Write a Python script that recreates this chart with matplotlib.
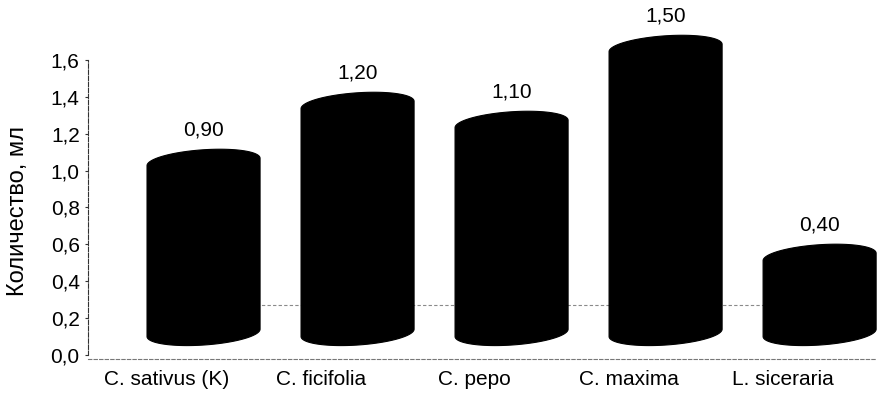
import numpy as np
import matplotlib.pyplot as plt
from matplotlib.patches import Polygon

species = ["C. sativus (K)", "C. ficifolia", "C. pepo", "C. maxima", "L. siceraria"]
volume_ml = [0.90, 1.20, 1.10, 1.50, 0.40]
y_ticks = [0.0, 0.2, 0.4, 0.6, 0.8, 1.0, 1.2, 1.4, 1.6]

plt.rcParams["font.family"] = ["Liberation Sans", "DejaVu Sans"]


def comma(v, digits):
    return f"{v:.{digits}f}".replace(".", ",")


fig = plt.figure(figsize=(8.83, 3.94), dpi=100)
ax = fig.add_axes([0.0997, 0.099, 0.8913, 0.819])
ax.set_xlim(-0.51, 4.6)
ax.set_ylim(0, 1.75)

# fake 3D: cylinders are pushed back/up by the depth offset and slightly
# stretched by perspective
depth_dx = 0.24
depth_dy = 0.12
persp = 1.03
half_w = 0.367
ell_h = 0.066
shear = 0.02

t_top = np.linspace(0, np.pi, 80)
t_bot = np.linspace(np.pi, 2 * np.pi, 80)

# back floor edge
ax.axhline(0.27, xmin=0.1, xmax=1.0, color="#8a8a8a", lw=0.8,
           ls=(0, (3, 2)), zorder=1)

for i, v in enumerate(volume_ml):
    cx = i + depth_dx
    y0 = depth_dy
    y1 = depth_dy + v * persp
    top = np.column_stack([cx + half_w * np.cos(t_top),
                           y1 + ell_h * np.sin(t_top) + shear * np.cos(t_top)])
    bot = np.column_stack([cx + half_w * np.cos(t_bot),
                           y0 + ell_h * np.sin(t_bot) + shear * np.cos(t_bot)])
    ax.add_patch(Polygon(np.vstack([top, bot]), closed=True, fc="black",
                         ec="black", lw=0.8, clip_on=False, zorder=3))
    ax.text(cx, y1 + ell_h + 0.055, comma(v, 2), ha="center", va="bottom",
            fontsize=15, zorder=4)

ax.spines["top"].set_visible(False)
ax.spines["right"].set_visible(False)
ax.spines["left"].set_bounds(0, 1.6)
ax.spines["left"].set_color("#333333")
ax.spines["left"].set_linewidth(0.8)
ax.spines["left"].set_linestyle((0, (4, 1.5)))
ax.spines["bottom"].set_position(("outward", 3))
ax.spines["bottom"].set_color("#777777")
ax.spines["bottom"].set_linewidth(0.8)
ax.spines["bottom"].set_linestyle((0, (3, 2)))

ax.set_yticks(y_ticks)
ax.set_yticklabels([comma(t, 1) for t in y_ticks])
ax.tick_params(axis="y", length=2.5, width=0.8, color="#333333", pad=3.5,
               labelsize=15)
ax.set_xticks(range(len(species)))
ax.set_xticklabels(species)
ax.tick_params(axis="x", length=0, pad=8, labelsize=15)

fig.text(18 / 883, (394 - 211) / 394, "Количество, мл", rotation=90,
         ha="center", va="center", fontsize=17)

fig.savefig("out.png", dpi=100)
